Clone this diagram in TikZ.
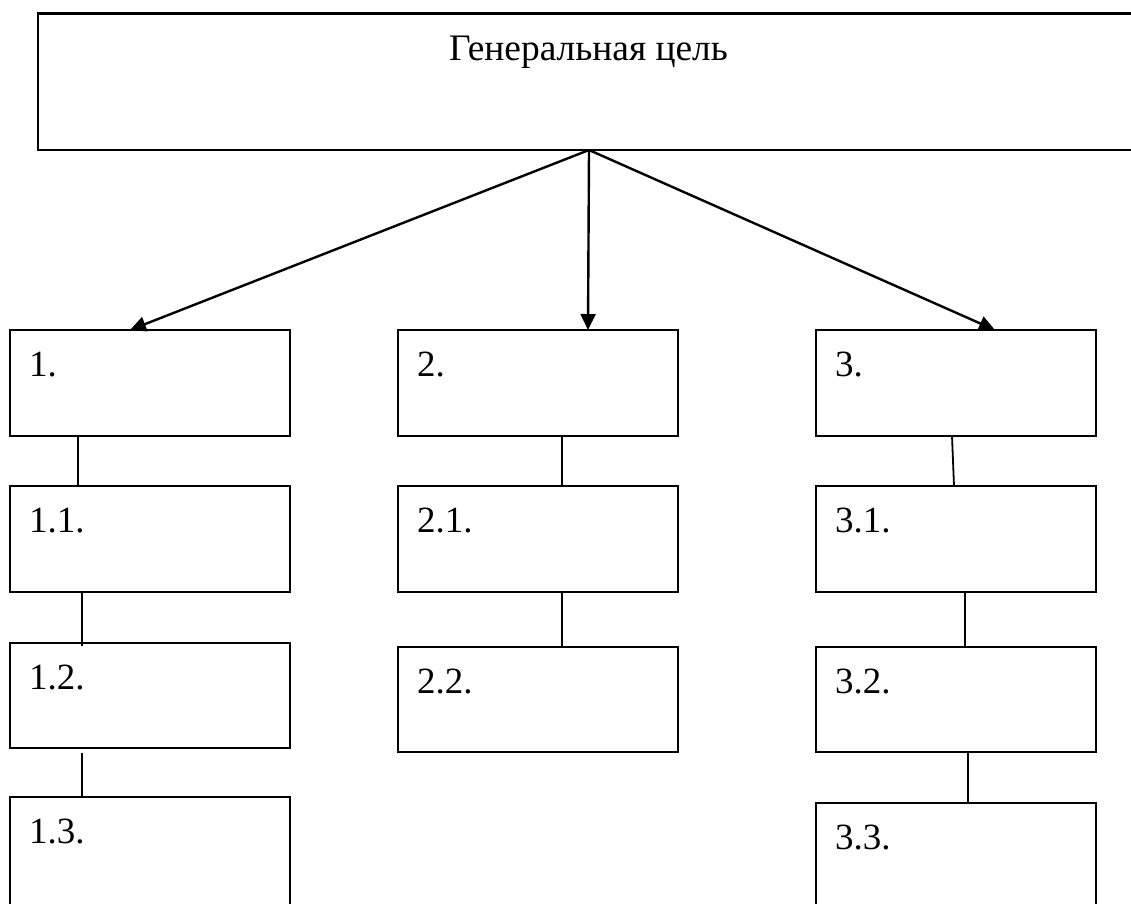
\documentclass[tikz,border=0pt]{standalone}
\usepackage{fontspec}
\setmainfont{Liberation Serif}
\usetikzlibrary{arrows.meta}
\tikzset{
  box/.style={draw, line width=1.8pt, rectangle, anchor=north west, inner sep=0pt, outer sep=0pt, minimum width=280pt},
  lbl/.style={anchor=base west, inner sep=0pt, font=\fontsize{37}{44}\selectfont},
  conn/.style={line width=1.8pt},
  arr/.style={line width=2.4pt, -{Triangle[length=16pt,width=15pt]}}
}
\begin{document}
\begin{tikzpicture}[x=1pt,y=1pt]
\clip (0,0) rectangle (1131,-903);
\useasboundingbox (0,0) rectangle (1131,-903);
% top box
\node[box, line width=2.4pt, minimum width=1102pt, minimum height=136.5pt] (top) at (38,-13.5) {};
\node[anchor=base, inner sep=0pt, font=\fontsize{37.4}{44}\selectfont] (title) at (588.5,-60) {Генеральная цель};
% level 1
\node[box, minimum height=106pt] (b1) at (10,-330) {};
\node[box, minimum height=106pt] (b2) at (398,-330) {};
\node[box, minimum height=106pt] (b3) at (816,-330) {};
% column 1
\node[box, minimum height=106pt] (b11) at (10,-486) {};
\node[box, minimum height=105pt] (b12) at (10,-643) {};
\node[box, minimum height=115pt] (b13) at (10,-797) {};
% column 2
\node[box, minimum height=106pt] (b21) at (398,-486) {};
\node[box, minimum height=105pt] (b22) at (398,-647) {};
% column 3
\node[box, minimum height=106pt] (b31) at (816,-486) {};
\node[box, minimum height=105pt] (b32) at (816,-647) {};
\node[box, minimum height=115pt] (b33) at (816,-803) {};
% labels
\foreach \n/\t in {b1/1., b2/2., b3/3., b11/1.1., b12/1.2., b13/1.3., b21/2.1., b22/2.2., b31/3.1., b32/3.2., b33/3.3.}{
  \node[lbl] (t\n) at ([xshift=19pt,yshift=-46pt]\n.north west) {\t};
}
% arrows
\draw[arr] (top.south) -- ([xshift=120pt]b1.north west);
\draw[arr] (top.south) -- ([xshift=190pt]b2.north west);
\draw[arr] (top.south) -- ([xshift=179pt]b3.north west);
% connectors
\draw[conn] ([xshift=68pt]b1.south west) -- ([xshift=68pt]b11.north west);
\draw[conn] ([xshift=72pt]b11.south west) -- ([xshift=72pt,yshift=-3pt]b12.north west);
\draw[conn] ([xshift=72pt,yshift=-5pt]b12.south west) -- ([xshift=72pt]b13.north west);
\draw[conn] ([xshift=164pt]b2.south west) -- ([xshift=164pt]b21.north west);
\draw[conn] ([xshift=164pt]b21.south west) -- ([xshift=164pt]b22.north west);
\draw[conn] ([xshift=136pt]b3.south west) -- ([xshift=138pt]b31.north west);
\draw[conn] ([xshift=149pt]b31.south west) -- ([xshift=149pt]b32.north west);
\draw[conn] ([xshift=152pt]b32.south west) -- ([xshift=152pt]b33.north west);
\end{tikzpicture}
\end{document}
